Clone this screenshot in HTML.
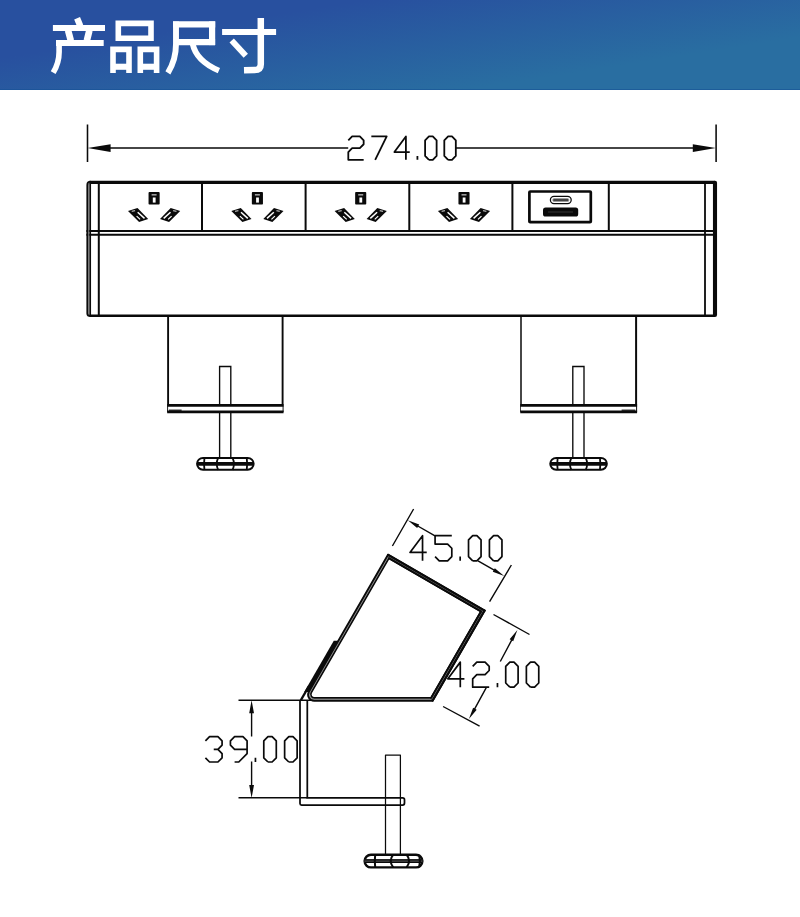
<!DOCTYPE html>
<html lang="zh">
<head>
<meta charset="utf-8">
<title>Product dimensions</title>
<style>
html,body{margin:0;padding:0;background:#fff;}
body{width:800px;height:917px;overflow:hidden;font-family:"Liberation Sans",sans-serif;}
#page{position:relative;width:800px;height:917px;background:#fff;overflow:hidden;}
#banner{position:absolute;left:0;top:0;width:800px;height:90px;
  background:linear-gradient(171deg,#28509f 0%,#28509f 26.8%,#296ea1 75.7%,#296ea1 100%);box-shadow:inset 0 -1px 0 rgba(20,80,150,0.55);}
#art{position:absolute;left:0;top:0;width:800px;height:917px;display:block;}
</style>
</head>
<body>
<div id="page">
<div id="banner"></div>
<svg id="art" width="800" height="917" viewBox="0 0 800 917" role="img" aria-label="Product dimensions drawing">
<g id="title" fill="none" stroke="#fff" stroke-width="5.6" stroke-linecap="butt" stroke-linejoin="miter">
<path d="M77.1 18.2 L80.3 26" stroke-width="6.3"/>
<path d="M52.9 28 H105" stroke-width="6.1"/>
<path d="M68.1 30.5 L70.8 40.5" stroke-width="6.7"/>
<path d="M89.4 30.5 L86.9 40.5" stroke-width="6.7"/>
<path d="M56 43 H103.7" stroke-width="5.9"/>
<path d="M59.1 43 V52 Q59.1 63 53.2 72.6"/>
<path d="M118.3 23.4 H151 V38.2 H118.3 Z"/>
<path d="M113 72.9 V49.4 H129 V72.9"/><path d="M113 66.75 H129" stroke-width="6.1"/>
<path d="M140.3 72.9 V49.4 H156.6 V72.9"/><path d="M140.3 66.75 H156.6" stroke-width="6.1"/>
<path d="M176 42.1 H215.1" stroke-width="6.2"/><path d="M173 24.35 H215.2" stroke-width="6.1"/><path d="M212.1 21.4 V45.1" stroke-width="6.2"/>
<path d="M176 21.4 V44 Q176 60 167.9 72.8" stroke-width="5.9"/>
<path d="M192.7 44 Q196.3 61 218.9 70.6" stroke-width="5.9"/>
<path d="M222.1 31.95 H276.1" stroke-width="6"/>
<path d="M260.8 18.1 V64.2 Q260.8 70 254.6 70 L244 70.3" stroke-width="6.5"/>
<path d="M231.7 40.4 L245.8 55.7" stroke-width="5.9"/>
</g>
<g id="front" fill="none" stroke="#0a0a0a" stroke-linecap="butt" stroke-linejoin="miter">
<path d="M87.5 124.4 V161.9 M716.1 124.4 V161.9" stroke-width="1.55"/>
<path d="M100 148.05 H348.2 M455.6 148.05 H704" stroke-width="1.55"/>
<path d="M87.6 148.05 L110.6 144.15 L110.6 151.95 Z M715.8 148.05 L692.8 151.95 L692.8 144.15 Z" fill="#0a0a0a" stroke="none"/>
<path d="M348.3 140.35 L352.14 136.45 L359.82 136.45 L363.66 140.35 L363.66 144.25 L359.82 148.15 L352.14 148.15 L348.3 152.05 L348.3 159.85 L363.66 159.85 M371.34 136.45 L386.7 136.45 L375.18 159.85 M405.9 159.85 L405.9 136.45 L394.38 152.05 L409.74 152.05 M417.42 159.85 L417.42 155.95 M428.94 159.85 L432.78 159.85 L436.62 155.95 L436.62 140.35 L432.78 136.45 L428.94 136.45 L425.1 140.35 L425.1 155.95 L428.94 159.85 M448.14 159.85 L451.98 159.85 L455.82 155.95 L455.82 140.35 L451.98 136.45 L448.14 136.45 L444.3 140.35 L444.3 155.95 L448.14 159.85" stroke-width="1.8" stroke-linejoin="round" stroke-linecap="butt"/>
<path d="M89.5 182.4 H715" stroke-width="3.2"/>
<path d="M86.4 231 H717 M86.4 234.8 H717" stroke-width="2"/>
<path d="M89.5 315.8 H715" stroke-width="2.4"/>
<path d="M88.75 183.4 V314.8" stroke="#8c8c8c" stroke-width="1.3"/>
<path d="M90.6 181.7 Q87.3 181.7 87.3 185 V313.5 Q87.3 316.1 90.6 316.1" stroke-width="1.8"/>
<path d="M90.2 182.4 V315.8" stroke-width="1.7"/>
<path d="M98.8 182.4 V315.8" stroke-width="2"/>
<path d="M705 182.4 V315.8" stroke-width="1.8"/>
<path d="M715 182.85 V314.95" stroke-width="4.1" stroke-linecap="round"/>
<path d="M202 182.4 V231" stroke-width="2"/>
<path d="M305.6 182.4 V231" stroke-width="2"/>
<path d="M409.3 182.4 V231" stroke-width="2"/>
<path d="M512.4 182.4 V231" stroke-width="2"/>
<path d="M608.8 182.4 V231" stroke-width="2"/>
</g>
<g id="sockets" stroke="none">
<rect x="148.55" y="192.1" width="11.1" height="12.4" rx="0.8" fill="#0a0a0a"/>
<rect x="152.8" y="197.5" width="2.8" height="5.1" fill="#fff"/>
<rect x="151.6" y="194" width="5" height="1.6" fill="#9a9a9a"/>
<path d="M128 211 L137.5 208.1 L148.2 219 L139.1 222.1 Z" fill="#0a0a0a"/>
<path d="M137.7 212.2 L144.5 218.4" stroke="#fff" stroke-width="1.5" fill="none"/>
<path d="M136.6 216.1 L140.1 219.4" stroke="#fff" stroke-width="1.2" fill="none"/>
<path d="M131.7 211.4 L135.1 210.6" stroke="#b0b0b0" stroke-width="1.2" fill="none"/>
<path d="M180.2 211 L170.7 208.1 L160 219 L169.1 222.1 Z" fill="#0a0a0a"/>
<path d="M170.5 212.2 L163.7 218.4" stroke="#fff" stroke-width="1.5" fill="none"/>
<path d="M171.6 216.1 L168.1 219.4" stroke="#fff" stroke-width="1.2" fill="none"/>
<path d="M176.5 211.4 L173.1 210.6" stroke="#b0b0b0" stroke-width="1.2" fill="none"/>
<rect x="251.85" y="192.1" width="11.1" height="12.4" rx="0.8" fill="#0a0a0a"/>
<rect x="256.1" y="197.5" width="2.8" height="5.1" fill="#fff"/>
<rect x="254.9" y="194" width="5" height="1.6" fill="#9a9a9a"/>
<path d="M231.3 211 L240.8 208.1 L251.5 219 L242.4 222.1 Z" fill="#0a0a0a"/>
<path d="M241 212.2 L247.8 218.4" stroke="#fff" stroke-width="1.5" fill="none"/>
<path d="M239.9 216.1 L243.4 219.4" stroke="#fff" stroke-width="1.2" fill="none"/>
<path d="M235 211.4 L238.4 210.6" stroke="#b0b0b0" stroke-width="1.2" fill="none"/>
<path d="M283.5 211 L274 208.1 L263.3 219 L272.4 222.1 Z" fill="#0a0a0a"/>
<path d="M273.8 212.2 L267 218.4" stroke="#fff" stroke-width="1.5" fill="none"/>
<path d="M274.9 216.1 L271.4 219.4" stroke="#fff" stroke-width="1.2" fill="none"/>
<path d="M279.8 211.4 L276.4 210.6" stroke="#b0b0b0" stroke-width="1.2" fill="none"/>
<rect x="355.15" y="192.1" width="11.1" height="12.4" rx="0.8" fill="#0a0a0a"/>
<rect x="359.4" y="197.5" width="2.8" height="5.1" fill="#fff"/>
<rect x="358.2" y="194" width="5" height="1.6" fill="#9a9a9a"/>
<path d="M334.6 211 L344.1 208.1 L354.8 219 L345.7 222.1 Z" fill="#0a0a0a"/>
<path d="M344.3 212.2 L351.1 218.4" stroke="#fff" stroke-width="1.5" fill="none"/>
<path d="M343.2 216.1 L346.7 219.4" stroke="#fff" stroke-width="1.2" fill="none"/>
<path d="M338.3 211.4 L341.7 210.6" stroke="#b0b0b0" stroke-width="1.2" fill="none"/>
<path d="M386.8 211 L377.3 208.1 L366.6 219 L375.7 222.1 Z" fill="#0a0a0a"/>
<path d="M377.1 212.2 L370.3 218.4" stroke="#fff" stroke-width="1.5" fill="none"/>
<path d="M378.2 216.1 L374.7 219.4" stroke="#fff" stroke-width="1.2" fill="none"/>
<path d="M383.1 211.4 L379.7 210.6" stroke="#b0b0b0" stroke-width="1.2" fill="none"/>
<rect x="458.45" y="192.1" width="11.1" height="12.4" rx="0.8" fill="#0a0a0a"/>
<rect x="462.7" y="197.5" width="2.8" height="5.1" fill="#fff"/>
<rect x="461.5" y="194" width="5" height="1.6" fill="#9a9a9a"/>
<path d="M437.9 211 L447.4 208.1 L458.1 219 L449 222.1 Z" fill="#0a0a0a"/>
<path d="M447.6 212.2 L454.4 218.4" stroke="#fff" stroke-width="1.5" fill="none"/>
<path d="M446.5 216.1 L450 219.4" stroke="#fff" stroke-width="1.2" fill="none"/>
<path d="M441.6 211.4 L445 210.6" stroke="#b0b0b0" stroke-width="1.2" fill="none"/>
<path d="M490.1 211 L480.6 208.1 L469.9 219 L479 222.1 Z" fill="#0a0a0a"/>
<path d="M480.4 212.2 L473.6 218.4" stroke="#fff" stroke-width="1.5" fill="none"/>
<path d="M481.5 216.1 L478 219.4" stroke="#fff" stroke-width="1.2" fill="none"/>
<path d="M486.4 211.4 L483 210.6" stroke="#b0b0b0" stroke-width="1.2" fill="none"/>
</g>
<g id="usb">
<rect x="529.4" y="191.5" width="61.4" height="30.7" rx="0.8" fill="none" stroke="#0a0a0a" stroke-width="2.7"/>
<rect x="550.4" y="196.4" width="20.8" height="7.2" rx="3.6" fill="#fff" stroke="#0a0a0a" stroke-width="1.25"/>
<rect x="552.7" y="198.5" width="16.2" height="3" rx="1.5" fill="#444" stroke="#9c9c9c" stroke-width="0.7"/>
<rect x="543" y="207.5" width="35.2" height="9" rx="2.6" fill="#0a0a0a"/>
<path d="M548 212 H573" stroke="#3a3a3a" stroke-width="0.9"/>
</g>
<g fill="none" stroke="#0a0a0a" stroke-linecap="butt">
<path d="M219.6 457.6 V366.5 H230.8 V457.6" stroke-width="1.35"/>
<path d="M168.1 315.8 V412" stroke-width="1.9"/>
<path d="M282.6 315.8 V412" stroke-width="1.9"/>
<rect x="168.1" y="405.4" width="114.5" height="6.5" fill="#fff" stroke="none"/>
<path d="M167.15 405.4 H283.55" stroke-width="2.7"/>
<path d="M167.15 411.9 H283.55" stroke-width="2.9"/>
<path d="M168.9 410.2 H181.6" stroke-width="1.2"/>
<rect x="197.05" y="457.9" width="56.6" height="11.9" rx="5.95" fill="#fff" stroke-width="2"/>
<path d="M197.05 463.85 H253.65" stroke-width="3.8"/>
<path d="M204.45 457.9 Q203.65 463.85 204.45 469.8" stroke-width="1.8"/>
<path d="M218.15 457.9 Q215.35 463.85 218.15 469.8" stroke-width="1.8"/>
<path d="M232.55 457.9 Q235.35 463.85 232.55 469.8" stroke-width="1.8"/>
<path d="M246.75 457.9 Q247.55 463.85 246.75 469.8" stroke-width="1.8"/>
</g>
<g fill="none" stroke="#0a0a0a" stroke-linecap="butt">
<path d="M572.8 457.6 V366.5 H584 V457.6" stroke-width="1.35"/>
<path d="M521 315.8 V412" stroke-width="1.5"/>
<path d="M636.1 315.8 V412" stroke-width="2"/>
<rect x="521" y="405.4" width="115.1" height="6.5" fill="#fff" stroke="none"/>
<path d="M520.25 405.4 H637.1" stroke-width="2.7"/>
<path d="M520.25 411.9 H637.1" stroke-width="2.9"/>
<path d="M621.6 410.2 H635.3" stroke-width="1.2"/>
<rect x="550.25" y="457.9" width="56.6" height="11.9" rx="5.95" fill="#fff" stroke-width="2"/>
<path d="M550.25 463.85 H606.85" stroke-width="3.8"/>
<path d="M557.65 457.9 Q556.85 463.85 557.65 469.8" stroke-width="1.8"/>
<path d="M571.35 457.9 Q568.55 463.85 571.35 469.8" stroke-width="1.8"/>
<path d="M585.75 457.9 Q588.55 463.85 585.75 469.8" stroke-width="1.8"/>
<path d="M599.95 457.9 Q600.75 463.85 599.95 469.8" stroke-width="1.8"/>
</g>
<g id="side" fill="none" stroke="#0a0a0a" stroke-linecap="butt" stroke-linejoin="round">
<path d="M238.5 700.3 H316 M238.5 797.8 H307.3" stroke-width="1.45"/>
<path d="M251.6 711 V736.4 M251.6 761.4 V787" stroke-width="1.4"/>
<path d="M251.6 700.2 L254 713.2 L249.2 713.2 Z M251.6 797.9 L249.2 784.9 L254 784.9 Z" fill="#0a0a0a" stroke="none"/>
<path d="M205.4 740.9 L209.57 736.68 L217.91 736.68 L222.08 740.9 L222.08 745.12 L217.91 749.34 L213.74 749.34 M217.91 749.34 L222.08 753.56 L222.08 757.78 L217.91 762 L209.57 762 L205.4 757.78 M247.1 749.34 L234.59 749.34 L230.42 745.12 L230.42 740.9 L234.59 736.68 L242.93 736.68 L247.1 740.9 L247.1 753.56 L238.76 762 L234.59 762 M255.44 762 L255.44 757.78 M267.95 762 L272.12 762 L276.29 757.78 L276.29 740.9 L272.12 736.68 L267.95 736.68 L263.78 740.9 L263.78 757.78 L267.95 762 M288.8 762 L292.97 762 L297.14 757.78 L297.14 740.9 L292.97 736.68 L288.8 736.68 L284.63 740.9 L284.63 757.78 L288.8 762" stroke-width="1.7" stroke-linecap="butt"/>
<path d="M300 700.3 V803.4 Q300 805 301.6 805 H402.6 Q404.5 805 404.5 803 V799.7 Q404.5 797.8 402.6 797.8 H307.3 V700.3" stroke-width="1.75" stroke-linejoin="miter"/>
<path d="M300.75 700.3 L309.01 686" stroke-width="2.3"/>
<path d="M304.21 692 L333.77 640.8 L338.32 640.8 L308.76 692 Z" fill="#0a0a0a" stroke="none"/>
<path d="M388.41 556.55 L482.72 611 L431.74 699.3 L314.13 699.3 A4.7 4.7 0 0 1 310.06 692.25 Z" stroke="#a0a0a0" stroke-width="1.4"/>
<path d="M388.41 556.55 L482.72 611" stroke-width="1.6" stroke="#5a5a5a" stroke-linecap="round"/>
<path d="M482.72 611 L431.74 699.3" stroke-width="1.6" stroke="#6a6a6a" stroke-linecap="round"/>
<path d="M388.02 554.71 L484.67 610.51 L432.6 700.7 L314.13 700.7 A6 6 0 0 1 308.93 691.7 Z" stroke-width="1.9"/>
<path d="M388.84 558.3 L480.94 611.47 L431.04 697.9 L314.3 697.9 A3.5 3.5 0 0 1 311.27 692.65 Z" stroke-width="1.7"/>
<path d="M388.02 554.71 L484.67 610.51" stroke-width="2" stroke-linecap="round"/>
<path d="M484.67 610.51 L432.6 700.7" stroke-width="2" stroke-linecap="round"/>
<path d="M388.84 558.3 L480.94 611.47" stroke-width="1.8" stroke-linecap="round"/>
<path d="M480.94 611.47 L431.04 697.9" stroke-width="1.8" stroke-linecap="round"/>
<path d="M413.6 509 L392.4 546 M511.4 565 L489.6 601.6" stroke-width="1.4"/>
<path d="M414.73 524.25 L435 535.95 M478 560.8 L497.27 571.95" stroke-width="1.4"/>
<path d="M407.8 520.25 L419.22 524.47 L417.17 528.03 Z M504.2 575.95 L492.78 571.73 L494.83 568.17 Z" fill="#0a0a0a" stroke="none"/>
<path d="M422.54 560.8 L422.54 535.72 L410 552.44 L426.72 552.44 M451.8 535.72 L435.08 535.72 L435.08 544.08 L447.62 544.08 L451.8 548.26 L451.8 556.62 L447.62 560.8 L439.26 560.8 L435.08 556.62 M460.16 560.8 L460.16 556.62 M472.7 560.8 L476.88 560.8 L481.06 556.62 L481.06 539.9 L476.88 535.72 L472.7 535.72 L468.52 539.9 L468.52 556.62 L472.7 560.8 M493.6 560.8 L497.78 560.8 L501.96 556.62 L501.96 539.9 L497.78 535.72 L493.6 535.72 L489.42 539.9 L489.42 556.62 L493.6 560.8" stroke-width="1.7" stroke-linecap="butt"/>
<path d="M493.5 614.5 L529.5 634.5 M443.1 706.5 L479.6 726.1" stroke-width="1.4"/>
<path d="M513.4 636.83 L500.3 661.5 M486.4 687.3 L472.9 712.17" stroke-width="1.4"/>
<path d="M517.4 629.9 L513.18 641.32 L509.62 639.27 Z M468.9 719.1 L473.12 707.68 L476.68 709.73 Z" fill="#0a0a0a" stroke="none"/>
<path d="M460.29 687.2 L460.29 662.12 L447.9 678.84 L464.42 678.84 M472.68 666.3 L476.81 662.12 L485.07 662.12 L489.2 666.3 L489.2 670.48 L485.07 674.66 L476.81 674.66 L472.68 678.84 L472.68 687.2 L489.2 687.2 M497.46 687.2 L497.46 683.02 M509.85 687.2 L513.98 687.2 L518.11 683.02 L518.11 666.3 L513.98 662.12 L509.85 662.12 L505.72 666.3 L505.72 683.02 L509.85 687.2 M530.5 687.2 L534.63 687.2 L538.76 683.02 L538.76 666.3 L534.63 662.12 L530.5 662.12 L526.37 666.3 L526.37 683.02 L530.5 687.2" stroke-width="1.7" stroke-linecap="butt"/>
<path d="M385.5 854 V755 H400.4 V854" stroke-width="1.25"/>
<rect x="364.6" y="854.7" width="57.8" height="12.7" rx="6.35" fill="#fff" stroke-width="2.4"/>
<path d="M364.6 861.05 H422.4" stroke="#4a4a4a" stroke-width="3.4"/>
<path d="M364.6 859.9 H422.4 M364.6 862.3 H422.4" stroke-width="1.3"/>
<path d="M375.2 854.7 Q374.4 861 375.2 867.4" stroke-width="2"/>
<path d="M393.2 854.7 Q388.2 861 393.2 867.4" stroke-width="2"/>
<path d="M406.6 854.7 Q411.6 861 406.6 867.4" stroke-width="2"/>
<path d="M419.2 854.7 Q420.6 861 419.2 867.4" stroke-width="2"/>
</g>
</svg>
</div>
</body>
</html>
